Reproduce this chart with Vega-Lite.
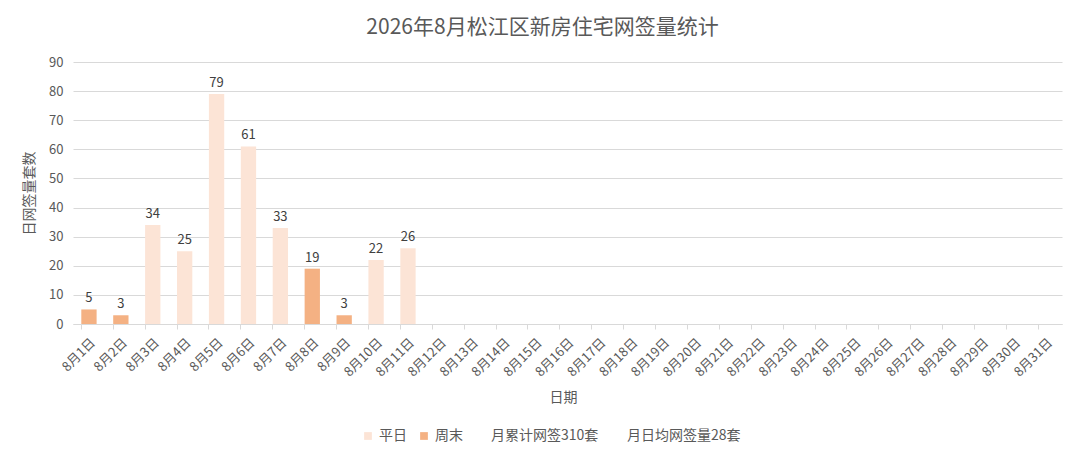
{
  "$schema": "https://vega.github.io/schema/vega-lite/v6.json",
  "autosize": {"type": "none"},
  "padding": {"left": 73, "top": 62, "right": 18, "bottom": 137},
  "width": 989,
  "height": 262,
  "background": "white",
  "config": {
    "font": "Noto Sans CJK SC",
    "view": {"stroke": null}
  },
  "title": {
    "text": "2026年8月松江区新房住宅网签量统计",
    "fontSize": 21,
    "fontWeight": "normal",
    "color": "#595959",
    "anchor": "middle",
    "dx": -25,
    "offset": 18
  },
  "data": {
    "values": [
      {"date": "8月1日", "count": 5, "type": "周末"},
      {"date": "8月2日", "count": 3, "type": "周末"},
      {"date": "8月3日", "count": 34, "type": "平日"},
      {"date": "8月4日", "count": 25, "type": "平日"},
      {"date": "8月5日", "count": 79, "type": "平日"},
      {"date": "8月6日", "count": 61, "type": "平日"},
      {"date": "8月7日", "count": 33, "type": "平日"},
      {"date": "8月8日", "count": 19, "type": "周末"},
      {"date": "8月9日", "count": 3, "type": "周末"},
      {"date": "8月10日", "count": 22, "type": "平日"},
      {"date": "8月11日", "count": 26, "type": "平日"}
    ]
  },
  "encoding": {
    "x": {
      "field": "date",
      "type": "nominal",
      "title": "日期",
      "scale": {
        "domain": ["8月1日","8月2日","8月3日","8月4日","8月5日","8月6日","8月7日","8月8日","8月9日","8月10日","8月11日","8月12日","8月13日","8月14日","8月15日","8月16日","8月17日","8月18日","8月19日","8月20日","8月21日","8月22日","8月23日","8月24日","8月25日","8月26日","8月27日","8月28日","8月29日","8月30日","8月31日"],
        "paddingInner": 0.52,
        "paddingOuter": 0.26
      },
      "axis": {
        "labelAngle": -45,
        "labelAlign": "right",
        "labelBaseline": "top",
        "labelFontSize": 13,
        "labelColor": "#595959",
        "labelPadding": 7,
        "bandPosition": 0,
        "domainColor": "#D9D9D9",
        "tickColor": "#D9D9D9",
        "tickSize": 5,
        "grid": false,
        "titleFontSize": 14,
        "titleFontWeight": "normal",
        "titleColor": "#595959",
        "titlePadding": 12,
        "titleX": 490
      }
    },
    "y": {
      "field": "count",
      "type": "quantitative",
      "title": "日网签量套数",
      "scale": {"domain": [0, 90]},
      "axis": {
        "values": [0, 10, 20, 30, 40, 50, 60, 70, 80, 90],
        "labelFontSize": 13,
        "labelColor": "#595959",
        "labelPadding": 10,
        "domain": false,
        "ticks": false,
        "gridColor": "#D9D9D9",
        "titleFontSize": 14,
        "titleFontWeight": "normal",
        "titleColor": "#595959",
        "titlePadding": 12
      }
    }
  },
  "layer": [
    {
      "mark": {"type": "bar"},
      "encoding": {
        "color": {
          "field": "type",
          "type": "nominal",
          "title": null,
          "scale": {
            "domain": ["平日", "周末", "月累计网签310套", "月日均网签量28套"],
            "range": ["#FCE4D6", "#F4B183", "transparent", "transparent"]
          },
          "legend": {
            "orient": "none",
            "legendX": 288,
            "legendY": 367,
            "direction": "horizontal",
            "symbolType": "square",
            "symbolSize": 60,
            "labelFontSize": 14,
            "labelColor": "#595959",
            "columnPadding": 10,
            "labelOffset": 4
          }
        }
      }
    },
    {
      "mark": {"type": "text", "dy": -11, "fontSize": 13, "color": "#404040"},
      "encoding": {
        "text": {"field": "count", "type": "quantitative"}
      }
    }
  ]
}
